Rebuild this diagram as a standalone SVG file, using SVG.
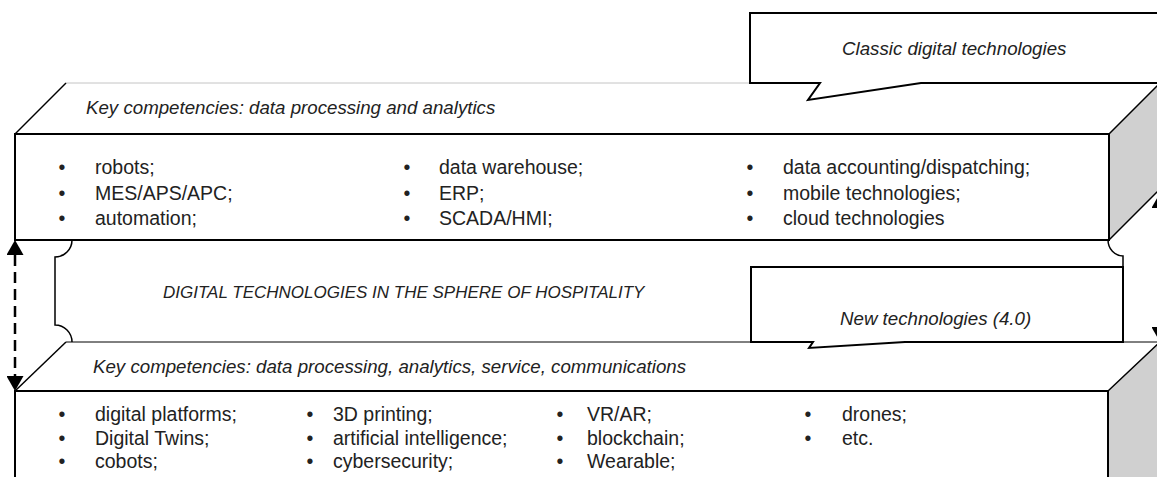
<svg xmlns="http://www.w3.org/2000/svg" width="1157" height="477" viewBox="0 0 1157 477">
  <defs>
    <style>
      .face{fill:#ffffff;stroke:none}
      .side{fill:#d0d0d0;stroke:#000;stroke-width:1.5;stroke-linejoin:miter}
      .front{fill:#ffffff;stroke:#000;stroke-width:2}
      .edge{fill:none;stroke:#000;stroke-width:1.5}
      .edgeLight{fill:none;stroke:#c4c4c4;stroke-width:1}
      .edgeThin{fill:none;stroke:#000;stroke-width:1}
      .brace{fill:none;stroke:#000;stroke-width:1.5}
      .callout{fill:#ffffff;stroke:#000;stroke-width:2;stroke-linejoin:miter}
      .dash{fill:none;stroke:#000;stroke-width:2.5;stroke-dasharray:11 6}
      .it{font-family:"Liberation Sans",Arial,sans-serif;font-style:italic;font-size:18.7px;fill:#222222}
      .mid{font-family:"Liberation Sans",Arial,sans-serif;font-style:italic;font-size:17px;fill:#222222}
      .li{font-family:"Liberation Sans",Arial,sans-serif;font-size:19.5px;fill:#222222}
    </style>
    <marker id="ah" viewBox="0 -8.5 15 17" refX="0" refY="0" markerWidth="15" markerHeight="17" markerUnits="userSpaceOnUse" orient="auto-start-reverse">
      <path d="M0,-8.5 L15,0 L0,8.5 z" fill="#000"/>
    </marker>
  </defs>
  <rect x="0" y="0" width="1157" height="477" fill="#ffffff"/>

  <g id="top-box">
    <polygon class="face" points="15,134 66,83 1160,83 1109,134"/>
    <line class="edgeLight" x1="66" y1="83" x2="1160" y2="83"/>
    <line class="edge" x1="15" y1="134" x2="66" y2="83"/>
    <polygon class="side" points="1109,134 1160,83 1160,189 1109,240"/>
    <rect class="front" x="15" y="134" width="1094" height="106"/>
    <text class="it" x="86" y="114">Key competencies: data processing and analytics</text>
    <g class="li">
      <text x="58.6" y="174">•</text><text x="95" y="174">robots;</text>
      <text x="58.6" y="199.5">•</text><text x="95" y="199.5">MES/APS/APC;</text>
      <text x="58.6" y="225">•</text><text x="95" y="225">automation;</text>
      <text x="403.6" y="174">•</text><text x="439" y="174">data warehouse;</text>
      <text x="403.6" y="199.5">•</text><text x="439" y="199.5">ERP;</text>
      <text x="403.6" y="225">•</text><text x="439" y="225">SCADA/HMI;</text>
      <text x="746.6" y="174">•</text><text x="783" y="174">data accounting/dispatching;</text>
      <text x="746.6" y="199.5">•</text><text x="783" y="199.5">mobile technologies;</text>
      <text x="746.6" y="225">•</text><text x="783" y="225">cloud technologies</text>
    </g>
  </g>

  <g id="middle">
    <path class="brace" d="M72,240 A17,17 0 0 1 55,257 L55,325 A17,17 0 0 1 72,342"/>
    <path class="brace" d="M1108,240 A15,16 0 0 0 1123,256 L1123,326 A15,16 0 0 0 1108,342"/>
    <text class="mid" x="163" y="298">DIGITAL TECHNOLOGIES IN THE SPHERE OF HOSPITALITY</text>
  </g>

  <g id="bottom-box">
    <polygon class="face" points="15,391 66,342 1160,342 1108,391"/>
    <line class="edgeThin" x1="66" y1="342" x2="1160" y2="342"/>
    <line class="edge" x1="15" y1="391" x2="66" y2="342"/>
    <polygon class="side" points="1108,391 1160,342 1160,500 1108,549"/>
    <rect class="front" x="15" y="391" width="1093" height="120"/>
    <text class="it" x="93" y="373">Key competencies: data processing, analytics, service, communications</text>
    <g class="li">
      <text x="58.6" y="421">•</text><text x="95" y="421">digital platforms;</text>
      <text x="58.6" y="444.5">•</text><text x="95" y="444.5">Digital Twins;</text>
      <text x="58.6" y="468">•</text><text x="95" y="468">cobots;</text>
      <text x="306.6" y="421">•</text><text x="333" y="421">3D printing;</text>
      <text x="306.6" y="444.5">•</text><text x="333" y="444.5">artificial intelligence;</text>
      <text x="306.6" y="468">•</text><text x="333" y="468">cybersecurity;</text>
      <text x="556.6" y="421">•</text><text x="587" y="421">VR/AR;</text>
      <text x="556.6" y="444.5">•</text><text x="587" y="444.5">blockchain;</text>
      <text x="556.6" y="468">•</text><text x="587" y="468">Wearable;</text>
      <text x="804.6" y="421">•</text><text x="842" y="421">drones;</text>
      <text x="804.6" y="444.5">•</text><text x="842" y="444.5">etc.</text>
    </g>
  </g>

  <g id="callout-classic">
    <path class="callout" d="M750,13 L1170,13 L1170,83 L921,83 L808,100 L820,83 L750,83 Z"/>
    <text class="it" x="842" y="55">Classic digital technologies</text>
  </g>

  <g id="callout-new">
    <path class="callout" d="M751,267 L1123,267 L1123,342 L905,342 L809,348 L813,342 L751,342 Z"/>
    <text class="it" x="840" y="325">New technologies (4.0)</text>
  </g>

  <g id="connectors">
    <line class="dash" x1="15" y1="255" x2="15" y2="376" marker-start="url(#ah)" marker-end="url(#ah)"/>
    <line class="dash" x1="1160" y1="208" x2="1160" y2="327" marker-start="url(#ah)" marker-end="url(#ah)"/>
  </g>
</svg>
